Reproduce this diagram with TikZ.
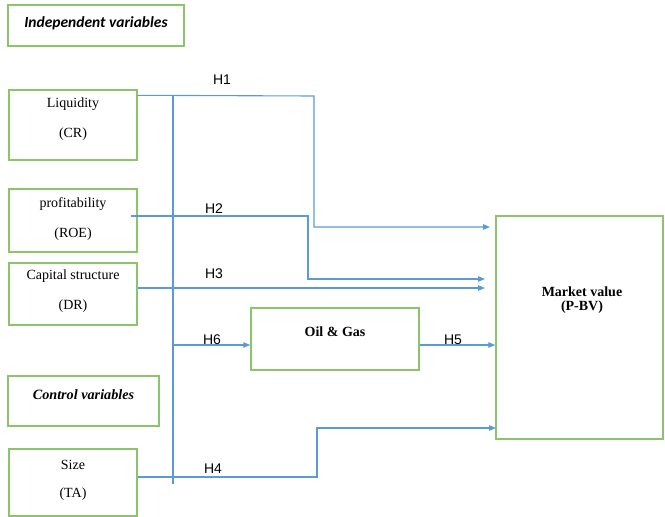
\documentclass[tikz,border=0pt]{standalone}
\usepackage{fontspec}
\setmainfont{Liberation Serif}
\newfontfamily\calib{Carlito}
\newfontfamily\arialf{Liberation Sans}
\usetikzlibrary{arrows.meta}
\definecolor{gboxc}{HTML}{8CC46A}
\definecolor{bline}{HTML}{5B9BD5}
\begin{document}
\begin{tikzpicture}[x=1pt,y=-1pt,
  gbox/.style={draw=gboxc, line width=1.4pt, fill=white, inner sep=0pt},
  txt/.style={font=\fontsize{14}{16}\selectfont, inner sep=0pt},
  hlab/.style={font=\arialf\fontsize{14}{16}\selectfont, inner sep=0pt},
  blu/.style={draw=bline, line width=1.1pt},
  arr/.style={blu, -{Triangle[length=7pt,width=5.5pt]}}]
\useasboundingbox (0,0) rectangle (665,517);
% boxes
\node[gbox, minimum width=176pt, minimum height=41pt] (indep) at (96,25.5) {};
\node[txt, font=\calib\bfseries\itshape\fontsize{15.5}{18}\selectfont] (indept) at (96,23) {Independent variables};
\node[gbox, minimum width=128pt, minimum height=70pt] (liq) at (73,125) {};
\node[txt] (liqa) at (73,104) {Liquidity};
\node[txt] (liqb) at (73,134) {(CR)};
\node[gbox, minimum width=128pt, minimum height=63pt] (prof) at (73,220.5) {};
\node[txt] (profa) at (73,204) {profitability};
\node[txt] (profb) at (73,234) {(ROE)};
\node[gbox, minimum width=128pt, minimum height=62pt] (cap) at (73,294) {};
\node[txt] (capa) at (73,276) {Capital structure};
\node[txt] (capb) at (73,306) {(DR)};
\node[gbox, minimum width=151pt, minimum height=50pt] (ctrl) at (83.5,401) {};
\node[txt, font=\bfseries\itshape\fontsize{14.2}{16}\selectfont] (ctrlt) at (83.5,395) {Control variables};
\node[gbox, minimum width=128pt, minimum height=67pt] (size) at (73,482.5) {};
\node[txt] (sizea) at (73,465) {Size};
\node[txt] (sizeb) at (73,494) {(TA)};
\node[gbox, minimum width=168pt, minimum height=62pt] (oil) at (335,339) {};
\node[txt, font=\bfseries\fontsize{14}{16}\selectfont] (oilt) at (335,332) {Oil \& Gas};
\node[gbox, minimum width=167pt, minimum height=223pt] (mkt) at (579.5,327.5) {};
\node[txt, font=\bfseries\fontsize{14}{16}\selectfont, anchor=base] (mkta) at (582,296) {Market value};
\node[txt, font=\bfseries\fontsize{14}{16}\selectfont, anchor=base] (mktb) at (582,310) {(P-BV)};
% coordinates
\coordinate (vtop) at (173,96);
\coordinate (vbot) at (173,484);
\coordinate (h1end) at (490,227);
\coordinate (h2start) at (131,216);
\coordinate (h2end) at (485,279);
\coordinate (h3end) at (485,288);
\coordinate (h6start) at (173,345);
\coordinate (h4y) at (0,477);
\coordinate (h4end) at (496,428);
% connectors
\draw[blu] (vtop) -- (vbot);
\draw[arr] ([yshift=-6pt]liq.north east) -- (314,96) -- (314,227) -- (h1end);
\draw[arr] (h2start) -- (308,216) -- (308,279) -- (h2end);
\draw[arr] (cap.east |- h3end) -- (h3end);
\draw[arr] (h6start) -- (oil.west |- h6start);
\draw[arr] (oil.east |- h6start) -- (mkt.west |- h6start);
\draw[arr] (size.east |- h4y) -- (317,477) -- (317,428) -- (h4end);
% labels
\node[hlab] (l1) at (222,80) {H1};
\node[hlab] (l2) at (214,209) {H2};
\node[hlab] (l3) at (214,274) {H3};
\node[hlab] (l6) at (212,340) {H6};
\node[hlab] (l5) at (453,340) {H5};
\node[hlab] (l4) at (213,469) {H4};
\end{tikzpicture}
\end{document}
